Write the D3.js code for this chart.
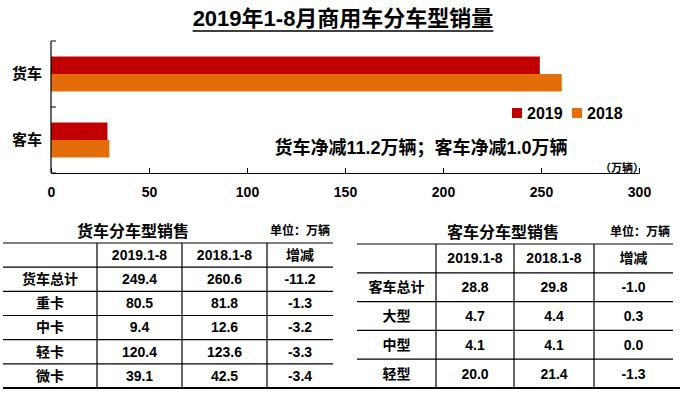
<!DOCTYPE html>
<html>

<head>
    <meta charset="UTF-8">
    <script src="https://d3js.org/d3.v7.min.js"></script>
    <style>
        body {
            margin: 0;
            background-color: #fff;
        }

        svg text {
            font-family: 'Liberation Sans', 'Noto Sans CJK SC', sans-serif;
            font-weight: bold;
            fill: #000;
        }
    </style>
</head>

<body>
    <svg id="chart" width="683" height="394"></svg>
    <script>
        // chart data
        var categories = ["货车", "客车"];
        var seriesNames = ["2019", "2018"];
        var sales2019 = [249.4, 28.8];
        var sales2018 = [260.6, 29.8];
        var xTicks = [0, 50, 100, 150, 200, 250, 300];

        // table data
        var tableHeader = ["", "2019.1-8", "2018.1-8", "增减"];
        var truckRows = ["货车总计", "重卡", "中卡", "轻卡", "微卡"];
        var truck2019 = [249.4, 80.5, 9.4, 120.4, 39.1];
        var truck2018 = [260.6, 81.8, 12.6, 123.6, 42.5];
        var truckDiff = [-11.2, -1.3, -3.2, -3.3, -3.4];
        var busRows = ["客车总计", "大型", "中型", "轻型"];
        var bus2019 = [28.8, 4.7, 4.1, 20.0];
        var bus2018 = [29.8, 4.4, 4.1, 21.4];
        var busDiff = [-1.0, 0.3, 0.0, -1.3];

        var colors = ["#C00000", "#E46C0A"];

        var svg = d3.select("#chart");

        // title
        var title = svg.append("text")
            .attr("x", 343)
            .attr("y", 26)
            .attr("text-anchor", "middle")
            .style("font-size", "22px")
            .text("2019年1-8月商用车分车型销量");
        var tb = title.node().getBBox();
        svg.append("line")
            .attr("x1", tb.x).attr("x2", tb.x + tb.width)
            .attr("y1", 31).attr("y2", 31)
            .attr("stroke", "#000")
            .attr("stroke-width", 1.5);

        // scales
        var x = d3.scaleLinear().domain([0, 300]).range([51, 639]);
        var y = d3.scaleBand().domain(categories).range([41, 173])
            .paddingInner(0.47).paddingOuter(0.235);
        var ySeries = d3.scaleBand().domain(seriesNames).range([0, y.bandwidth()]);

        var barData = [];
        categories.forEach(function (c, i) {
            barData.push({ cat: c, series: "2019", value: sales2019[i], color: colors[0] });
            barData.push({ cat: c, series: "2018", value: sales2018[i], color: colors[1] });
        });

        svg.selectAll("rect.bar")
            .data(barData)
            .enter()
            .append("rect")
            .attr("class", "bar")
            .attr("x", x(0))
            .attr("y", function (d) { return y(d.cat) + ySeries(d.series); })
            .attr("width", function (d) { return x(d.value) - x(0); })
            .attr("height", ySeries.bandwidth())
            .attr("fill", function (d) { return d.color; });

        // x axis
        var xAxis = svg.append("g")
            .attr("transform", "translate(0,173)")
            .call(d3.axisBottom(x).tickValues(xTicks).tickSizeInner(-5).tickSizeOuter(0).tickPadding(14));
        xAxis.select(".domain").attr("stroke", "#000").attr("stroke-width", 1.2);
        xAxis.selectAll(".tick line").attr("stroke", "#000");
        xAxis.selectAll(".tick text")
            .style("font-size", "14px")
            .style("font-family", "'Liberation Sans', sans-serif")
            .style("font-weight", "bold");

        // y axis (category axis, ticks at band edges)
        var y0 = y.range()[0], y1 = y.range()[1];
        svg.append("line")
            .attr("x1", x(0)).attr("x2", x(0))
            .attr("y1", y0).attr("y2", y1)
            .attr("stroke", "#000").attr("stroke-width", 1.2);
        d3.range(categories.length + 1).forEach(function (i) {
            var ty = y0 + i * y.step();
            svg.append("line")
                .attr("x1", x(0)).attr("x2", x(0) + 5)
                .attr("y1", ty).attr("y2", ty)
                .attr("stroke", "#000");
        });
        svg.selectAll("text.cat")
            .data(categories)
            .enter()
            .append("text")
            .attr("class", "cat")
            .attr("x", 42)
            .attr("y", function (d) { return y(d) + y.bandwidth() / 2; })
            .attr("dy", "0.35em")
            .attr("text-anchor", "end")
            .style("font-size", "15px")
            .text(function (d) { return d; });

        // legend
        var legend = svg.selectAll("g.legend")
            .data(seriesNames)
            .enter()
            .append("g")
            .attr("class", "legend")
            .attr("transform", function (d, i) { return "translate(" + (512 + i * 60) + ",108)"; });
        legend.append("rect")
            .attr("width", 10).attr("height", 10)
            .attr("fill", function (d, i) { return colors[i]; });
        legend.append("text")
            .attr("x", 15).attr("y", 5)
            .attr("dy", "0.35em")
            .style("font-size", "16px")
            .text(function (d) { return d; });

        // annotations
        svg.append("text")
            .attr("x", 421).attr("y", 148)
            .attr("dy", "0.35em")
            .attr("text-anchor", "middle")
            .style("font-size", "18px")
            .text("货车净减11.2万辆；客车净减1.0万辆");
        svg.append("text")
            .attr("x", 622).attr("y", 168)
            .attr("dy", "0.35em")
            .attr("text-anchor", "middle")
            .style("font-size", "11px")
            .text("（万辆）");

        // tables
        function drawTable(opts) {
            var g = svg.append("g");
            var rows = [""].concat(opts.rows);
            var rowScale = d3.scaleBand().domain(d3.range(rows.length)).range([opts.top, opts.bottom]);
            var edges = opts.cols;
            var left = edges[0], right = edges[edges.length - 1];

            g.append("text")
                .attr("x", opts.titleX).attr("y", opts.titleY)
                .attr("dy", "0.35em")
                .attr("text-anchor", "middle")
                .style("font-size", "16px")
                .text(opts.title);
            g.append("text")
                .attr("x", right - 3).attr("y", opts.titleY)
                .attr("dy", "0.35em")
                .attr("text-anchor", "end")
                .style("font-size", "12px")
                .text("单位：万辆");

            // horizontal lines
            d3.range(rows.length).forEach(function (i) {
                g.append("line")
                    .attr("x1", left).attr("x2", right)
                    .attr("y1", rowScale(i)).attr("y2", rowScale(i))
                    .attr("stroke", "#000").attr("stroke-width", 1.2);
            });
            // vertical dividers
            edges.slice(1, -1).forEach(function (ex) {
                g.append("line")
                    .attr("x1", ex).attr("x2", ex)
                    .attr("y1", opts.top).attr("y2", opts.bottom)
                    .attr("stroke", "#000").attr("stroke-width", 1.2);
            });

            var cells = [];
            tableHeader.forEach(function (h, c) { cells.push({ r: 0, c: c, t: h }); });
            opts.rows.forEach(function (name, i) {
                cells.push({ r: i + 1, c: 0, t: name });
                cells.push({ r: i + 1, c: 1, t: opts.v2019[i].toFixed(1) });
                cells.push({ r: i + 1, c: 2, t: opts.v2018[i].toFixed(1) });
                cells.push({ r: i + 1, c: 3, t: opts.diff[i].toFixed(1) });
            });
            g.selectAll("text.cell")
                .data(cells)
                .enter()
                .append("text")
                .attr("class", "cell")
                .attr("x", function (d) { return (edges[d.c] + edges[d.c + 1]) / 2; })
                .attr("y", function (d) { return rowScale(d.r) + rowScale.bandwidth() / 2; })
                .attr("dy", "0.35em")
                .attr("text-anchor", "middle")
                .style("font-size", "14px")
                .text(function (d) { return d.t; });
        }

        drawTable({
            title: "货车分车型销售", titleX: 133, titleY: 231,
            rows: truckRows, v2019: truck2019, v2018: truck2018, diff: truckDiff,
            cols: [3, 97, 182, 267, 333], top: 243, bottom: 388
        });
        drawTable({
            title: "客车分车型销售", titleX: 503, titleY: 232,
            rows: busRows, v2019: bus2019, v2018: bus2018, diff: busDiff,
            cols: [357, 436, 514, 594, 673], top: 244, bottom: 388
        });

        // bottom rule under both tables
        svg.append("line")
            .attr("x1", 3).attr("x2", 680)
            .attr("y1", 388).attr("y2", 388)
            .attr("stroke", "#000").attr("stroke-width", 2);
    </script>
</body>

</html>
